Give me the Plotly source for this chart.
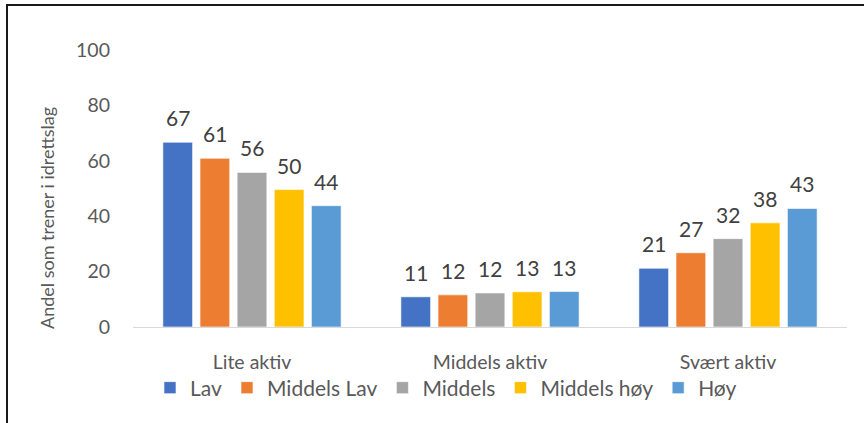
import plotly.graph_objects as go

categories = ["Lite aktiv", "Middels aktiv", "Svært aktiv"]
series_names = ["Lav", "Middels Lav", "Middels", "Middels høy", "Høy"]
lav = [66.7, 10.9, 21.2]
middels_lav = [60.9, 11.6, 26.8]
middels = [55.8, 12.3, 31.9]
middels_hoy = [49.6, 12.7, 37.6]
hoy = [43.8, 12.8, 42.8]
series_values = [lav, middels_lav, middels, middels_hoy, hoy]
colors = ["#4472C4", "#ED7D31", "#A5A5A5", "#FFC000", "#5B9BD5"]
y_ticks = [0, 20, 40, 60, 80, 100]

FONT = "Lato, Carlito, Calibri, sans-serif"
W, H = 864, 423
ML, MR, MT, MB = 133, 17, 50, 96
BARGAP = 0.22
plot_w = W - ML - MR
plot_h = H - MT - MB

fig = go.Figure()
for name, vals, col in zip(series_names, series_values, colors):
    fig.add_trace(go.Bar(
        x=categories, y=vals, name=name,
        marker=dict(color=col, line=dict(color="rgba(255,255,255,0.6)", width=1)),
    ))

# data labels as annotations placed above each bar
n = len(series_names)
slot = plot_w / len(categories) * (1 - BARGAP) / n
annotations = []
for i, vals in enumerate(series_values):
    for c, v in zip(categories, vals):
        annotations.append(dict(
            x=c, y=v, xref="x", yref="y", text=f"{v:.0f}", showarrow=False,
            xshift=(i - (n - 1) / 2) * slot, yshift=10, yanchor="bottom",
            font=dict(family=FONT, size=21, color="#404040"),
        ))

# axis title
annotations.append(dict(
    x=(47 - ML) / plot_w, y=(MT + plot_h - 218) / plot_h, xref="paper", yref="paper",
    text="Andel som trener i idrettslag", textangle=-90, showarrow=False,
    xanchor="center", yanchor="middle",
    font=dict(family=FONT, size=18, color="#595959"),
))

# chart border (top and left visible)
x0 = (7 - ML) / plot_w
y0 = (MT + plot_h - 5) / plot_h
shapes = [dict(type="path", xref="paper", yref="paper",
               path=f"M {x0} -1 L {x0} {y0} L 1.2 {y0}",
               line=dict(color="#1a1a1a", width=2))]

fig.update_layout(
    width=W, height=H,
    margin=dict(l=ML, r=MR, t=MT, b=MB),
    paper_bgcolor="white", plot_bgcolor="white",
    barmode="group", bargap=BARGAP, bargroupgap=0.2,
    font=dict(family=FONT, size=17, color="#595959"),
    showlegend=True,
    legend=dict(orientation="h", x=(446 - ML) / plot_w, xanchor="center",
                y=(MT + plot_h - 388) / plot_h, yanchor="middle",
                bgcolor="rgba(0,0,0,0)",
                font=dict(family=FONT, size=21, color="#595959"),
                itemwidth=30, traceorder="normal"),
    annotations=annotations,
    shapes=shapes,
    xaxis=dict(showline=True, linecolor="#d9d9d9", linewidth=1, ticks="",
               showgrid=False, ticklabelstandoff=18,
               tickfont=dict(family=FONT, size=19.5, color="#595959")),
    yaxis=dict(range=[0, 100], tickvals=y_ticks, showgrid=False, zeroline=False,
               showline=False, ticks="", ticklabelstandoff=22,
               tickfont=dict(family=FONT, size=19.5, color="#595959")),
)

fig.write_html("out.html")
